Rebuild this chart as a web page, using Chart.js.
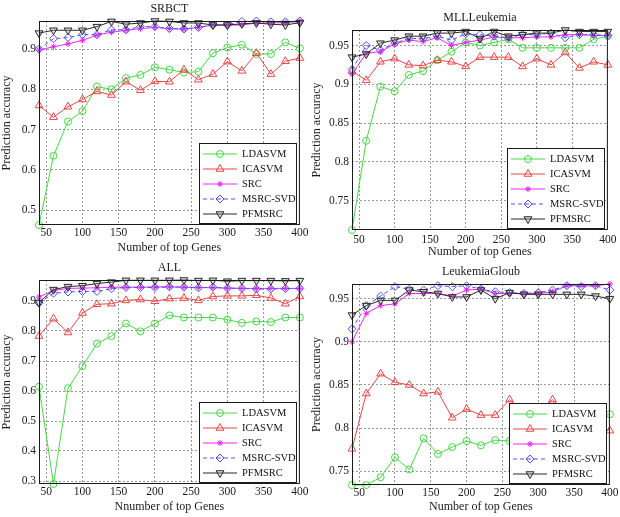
<!DOCTYPE html>
<html>
<head>
<meta charset="utf-8">
<script src="https://cdn.jsdelivr.net/npm/chart.js@4.4.1/dist/chart.umd.min.js"></script>
<style>
  body { margin: 0; background: #fff; }
  #wrap { position: relative; width: 620px; height: 517px; overflow: hidden; }
  #wrap canvas { position: absolute; }
</style>
</head>
<body>
<div id="wrap">
  <canvas id="srbct-chart" width="310" height="258" style="left:0px;top:0px"></canvas>
  <canvas id="mll-chart" width="310" height="260" style="left:310px;top:0px"></canvas>
  <canvas id="all-chart" width="310" height="259" style="left:0px;top:258px"></canvas>
  <canvas id="gloub-chart" width="310" height="257" style="left:310px;top:260px"></canvas>
</div>
<script>
// number of top genes (x values, same for all four panels)
let genes = [40, 60, 80, 100, 120, 140, 160, 180, 200, 220, 240, 260, 280, 300, 320, 340, 360, 380, 400];
let xTicks = [50, 100, 150, 200, 250, 300, 350, 400];

let methods = ["LDASVM", "ICASVM", "SRC", "MSRC-SVD", "PFMSRC"];

// SRBCT
let srbctLDASVM = [0.463, 0.635, 0.72, 0.746, 0.807, 0.80, 0.828, 0.836, 0.855, 0.849, 0.842, 0.844, 0.89, 0.904, 0.911, 0.888, 0.888, 0.917, 0.902];
let srbctICASVM = [0.76, 0.731, 0.757, 0.775, 0.795, 0.786, 0.819, 0.798, 0.82, 0.819, 0.849, 0.824, 0.838, 0.869, 0.846, 0.89, 0.838, 0.87, 0.878];
let srbctSRC = [0.898, 0.906, 0.913, 0.922, 0.935, 0.942, 0.947, 0.951, 0.954, 0.951, 0.95, 0.954, 0.96, 0.96, 0.96, 0.965, 0.965, 0.966, 0.969];
let srbctMSRC = [0.9, 0.926, 0.929, 0.936, 0.936, 0.948, 0.948, 0.956, 0.956, 0.951, 0.95, 0.954, 0.96, 0.96, 0.969, 0.97, 0.968, 0.968, 0.97];
let srbctPFMSRC = [0.94, 0.947, 0.947, 0.947, 0.956, 0.969, 0.962, 0.965, 0.97, 0.969, 0.965, 0.965, 0.96, 0.96, 0.963, 0.965, 0.962, 0.96, 0.966];
let srbctYTicks = [0.5, 0.6, 0.7, 0.8, 0.9];

// MLLLeukemia
let mllLDASVM = [0.712, 0.827, 0.897, 0.891, 0.912, 0.917, 0.931, 0.942, 0.954, 0.95, 0.954, 0.958, 0.947, 0.947, 0.947, 0.947, 0.947, 0.958, 0.962];
let mllICASVM = [0.917, 0.905, 0.929, 0.933, 0.925, 0.924, 0.931, 0.929, 0.923, 0.935, 0.935, 0.935, 0.923, 0.933, 0.925, 0.941, 0.921, 0.929, 0.925];
let mllSRC = [0.913, 0.94, 0.942, 0.952, 0.957, 0.955, 0.96, 0.95, 0.954, 0.957, 0.961, 0.96, 0.96, 0.961, 0.961, 0.964, 0.964, 0.963, 0.963];
let mllMSRC = [0.919, 0.95, 0.944, 0.953, 0.959, 0.959, 0.962, 0.957, 0.965, 0.964, 0.962, 0.96, 0.964, 0.964, 0.966, 0.96, 0.964, 0.964, 0.963];
let mllPFMSRC = [0.935, 0.939, 0.953, 0.957, 0.962, 0.962, 0.966, 0.966, 0.968, 0.959, 0.968, 0.962, 0.964, 0.966, 0.966, 0.97, 0.968, 0.968, 0.968];
let mllYTicks = [0.75, 0.8, 0.85, 0.9, 0.95];

// ALL
let allLDASVM = [0.614, 0.29, 0.609, 0.683, 0.758, 0.783, 0.825, 0.799, 0.825, 0.852, 0.845, 0.845, 0.845, 0.838, 0.827, 0.832, 0.83, 0.845, 0.845];
let allICASVM = [0.783, 0.841, 0.795, 0.86, 0.889, 0.891, 0.902, 0.905, 0.899, 0.908, 0.91, 0.902, 0.915, 0.917, 0.917, 0.919, 0.91, 0.891, 0.915];
let allSRC = [0.913, 0.935, 0.942, 0.943, 0.944, 0.946, 0.946, 0.946, 0.947, 0.947, 0.946, 0.945, 0.944, 0.943, 0.942, 0.942, 0.942, 0.942, 0.942];
let allMSRC = [0.893, 0.926, 0.93, 0.932, 0.932, 0.941, 0.945, 0.945, 0.945, 0.947, 0.946, 0.944, 0.946, 0.943, 0.942, 0.94, 0.94, 0.941, 0.942];
let allPFMSRC = [0.895, 0.938, 0.948, 0.951, 0.958, 0.963, 0.969, 0.969, 0.969, 0.969, 0.97, 0.968, 0.969, 0.966, 0.968, 0.968, 0.968, 0.967, 0.968];
let allYTicks = [0.3, 0.4, 0.5, 0.6, 0.7, 0.8, 0.9];

// LeukemiaGloub
let gloubLDASVM = [0.734, 0.734, 0.743, 0.766, 0.752, 0.788, 0.77, 0.778, 0.785, 0.78, 0.786, 0.785, 0.79, 0.795, 0.8, 0.805, 0.808, 0.812, 0.816];
let gloubICASVM = [0.776, 0.84, 0.863, 0.853, 0.85, 0.84, 0.842, 0.812, 0.822, 0.815, 0.815, 0.833, 0.818, 0.82, 0.833, 0.815, 0.81, 0.805, 0.797];
let gloubSRC = [0.9, 0.933, 0.942, 0.944, 0.956, 0.956, 0.956, 0.953, 0.96, 0.961, 0.956, 0.956, 0.956, 0.956, 0.958, 0.965, 0.965, 0.965, 0.967];
let gloubMSRC = [0.915, 0.942, 0.953, 0.964, 0.961, 0.96, 0.965, 0.964, 0.965, 0.961, 0.958, 0.957, 0.956, 0.957, 0.96, 0.965, 0.964, 0.965, 0.96];
let gloubPFMSRC = [0.931, 0.942, 0.948, 0.948, 0.96, 0.958, 0.956, 0.952, 0.952, 0.96, 0.95, 0.957, 0.955, 0.955, 0.955, 0.955, 0.955, 0.953, 0.95];
let gloubYTicks = [0.75, 0.8, 0.85, 0.9, 0.95];

let serif = '"Liberation Serif", "Times New Roman", serif';

let styles = [
    { color: 'rgb(70,215,70)', pointStyle: 'circle', radius: 3.5, fill: 'rgba(255,255,255,0)', dash: [], order: 5 },
    { color: 'rgb(232,70,70)', pointStyle: 'triangle', radius: 4.5, fill: 'rgba(255,255,255,0)', dash: [], order: 4 },
    { color: 'rgb(240,40,240)', pointStyle: 'star', radius: 3, fill: 'rgba(255,255,255,0)', dash: [], order: 3 },
    { color: 'rgb(80,80,240)', pointStyle: 'rectRot', radius: 4, fill: 'rgba(255,255,255,0)', dash: [4, 3], order: 2 },
    { color: 'rgb(40,40,40)', pointStyle: 'triangle', radius: 4.5, fill: 'rgba(150,150,150,0.25)', dash: [], order: 1, rotation: 180 }
];

// box round the plot area, like matlab's "box on"
let frame = {
    id: 'frame',
    afterDatasetsDraw: (chart) => {
        let a = chart.chartArea;
        let ctx = chart.ctx;
        ctx.save();
        ctx.strokeStyle = '#1a1a1a';
        ctx.lineWidth = 1;
        ctx.strokeRect(a.left + 0.5, a.top + 0.5, a.right - a.left - 1, a.bottom - a.top - 1);
        ctx.restore();
    }
};

// title centred over the axes
let panelTitle = {
    id: 'panelTitle',
    afterDraw: (chart, args, opts) => {
        let a = chart.chartArea;
        let ctx = chart.ctx;
        ctx.save();
        ctx.font = '12px ' + serif;
        ctx.fillStyle = '#1a1a1a';
        ctx.textAlign = 'center';
        ctx.textBaseline = 'middle';
        ctx.fillText(opts.text, (a.left + a.right) / 2, a.top - 12);
        ctx.restore();
    }
};

// legend box in the lower right corner of the axes
let boxLegend = {
    id: 'boxLegend',
    afterDraw: (chart) => {
        let a = chart.chartArea;
        let ctx = chart.ctx;
        let w = 97, h = 80;
        let x0 = Math.round(a.right - 4 - w);
        let y0 = Math.round(a.bottom - 2 - h);
        ctx.save();
        ctx.fillStyle = 'white';
        ctx.fillRect(x0, y0, w, h);
        ctx.strokeStyle = '#1a1a1a';
        ctx.lineWidth = 1;
        ctx.strokeRect(x0 + 0.5, y0 + 0.5, w, h);
        chart.data.datasets.forEach((ds, i) => {
            let y = y0 + 11 + i * 15;
            ctx.strokeStyle = ds.borderColor;
            ctx.lineWidth = 1;
            ctx.setLineDash(ds.borderDash);
            ctx.beginPath();
            ctx.moveTo(x0 + 4, y);
            ctx.lineTo(x0 + 38, y);
            ctx.stroke();
            ctx.setLineDash([]);
            ctx.fillStyle = ds.pointBackgroundColor;
            Chart.helpers.drawPoint(ctx, {
                pointStyle: ds.pointStyle,
                rotation: ds.pointRotation,
                radius: ds.pointRadius,
                borderWidth: 1
            }, x0 + 21, y);
            ctx.fillStyle = '#111';
            ctx.font = '10.5px ' + serif;
            ctx.textAlign = 'left';
            ctx.textBaseline = 'middle';
            ctx.fillText(ds.label, x0 + 43, y + 0.5);
        });
        ctx.restore();
    }
};

let makeDatasets = (series) => {
    return series.map((values, i) => {
        let s = styles[i];
        return {
            label: methods[i],
            data: values.map((v, j) => ({ x: genes[j], y: v })),
            borderColor: s.color,
            backgroundColor: s.color,
            borderWidth: 1,
            borderDash: s.dash,
            pointStyle: s.pointStyle,
            pointRadius: s.radius,
            pointRotation: s.rotation || 0,
            pointBorderColor: s.color,
            pointBackgroundColor: s.fill,
            pointBorderWidth: 1,
            tension: 0,
            clip: false,
            order: s.order
        };
    });
};

let makeConfig = (p) => {
    let all = [].concat(...p.series);
    return {
        type: 'line',
        data: { datasets: makeDatasets(p.series) },
        options: {
            responsive: false,
            animation: false,
            devicePixelRatio: 1,
            layout: { padding: { top: p.top, right: p.right, left: 0, bottom: 0 } },
            plugins: {
                legend: { display: false },
                tooltip: { enabled: false },
                panelTitle: { text: p.title }
            },
            scales: {
                x: {
                    type: 'linear',
                    min: genes[0],
                    max: genes[genes.length - 1],
                    afterBuildTicks: (axis) => { axis.ticks = xTicks.map(v => ({ value: v })); },
                    afterFit: (axis) => { axis.height = p.xHeight; },
                    ticks: {
                        padding: p.xTickPad,
                        color: '#1a1a1a',
                        font: { family: serif, size: 11.5 },
                        maxRotation: 0,
                        callback: (v) => String(v)
                    },
                    grid: { color: 'rgba(0,0,0,0.4)', drawTicks: false, lineWidth: 1 },
                    border: { display: false, dash: [2, 2] },
                    title: {
                        display: true,
                        text: p.xTitle,
                        color: '#1a1a1a',
                        font: { family: serif, size: 12, lineHeight: 1 },
                        padding: { top: 0, bottom: p.xTitlePad }
                    }
                },
                y: {
                    type: 'linear',
                    min: Math.min(...all),
                    max: Math.max(...all),
                    afterBuildTicks: (axis) => { axis.ticks = p.yTicks.map(v => ({ value: v })); },
                    afterFit: (axis) => { axis.width = p.yWidth; },
                    ticks: {
                        padding: 3,
                        color: '#1a1a1a',
                        font: { family: serif, size: 11.5 },
                        callback: (v) => String(v)
                    },
                    grid: { color: 'rgba(0,0,0,0.4)', drawTicks: false, lineWidth: 1 },
                    border: { display: false, dash: [2, 2] },
                    title: {
                        display: true,
                        text: 'Prediction accuracy',
                        color: '#1a1a1a',
                        font: { family: serif, size: 12, lineHeight: 1 },
                        padding: { top: 1, bottom: 0 }
                    }
                }
            }
        },
        plugins: [frame, panelTitle, boxLegend]
    };
};

let srbctChart = new Chart(document.getElementById('srbct-chart'), makeConfig({
    title: 'SRBCT',
    series: [srbctLDASVM, srbctICASVM, srbctSRC, srbctMSRC, srbctPFMSRC],
    yTicks: srbctYTicks,
    xTitle: 'Number of top Genes',
    top: 21, right: 8, yWidth: 39, xHeight: 33, xTickPad: 1.5, xTitlePad: 4
}));

let mllChart = new Chart(document.getElementById('mll-chart'), makeConfig({
    title: 'MLLLeukemia',
    series: [mllLDASVM, mllICASVM, mllSRC, mllMSRC, mllPFMSRC],
    yTicks: mllYTicks,
    xTitle: 'Number of top Genes',
    top: 30, right: 8, yWidth: 42, xHeight: 30, xTickPad: 3.5, xTitlePad: 2
}));

let allChart = new Chart(document.getElementById('all-chart'), makeConfig({
    title: 'ALL',
    series: [allLDASVM, allICASVM, allSRC, allMSRC, allPFMSRC],
    yTicks: allYTicks,
    xTitle: 'Nnumber of top Genes',
    top: 22, right: 8, yWidth: 39, xHeight: 33, xTickPad: 1.5, xTitlePad: 4
}));

let gloubChart = new Chart(document.getElementById('gloub-chart'), makeConfig({
    title: 'LeukemiaGloub',
    series: [gloubLDASVM, gloubICASVM, gloubSRC, gloubMSRC, gloubPFMSRC],
    yTicks: gloubYTicks,
    xTitle: 'Number of top Genes',
    top: 24, right: 9, yWidth: 42, xHeight: 32, xTickPad: 1.5, xTitlePad: 4.5
}));
</script>
</body>
</html>
